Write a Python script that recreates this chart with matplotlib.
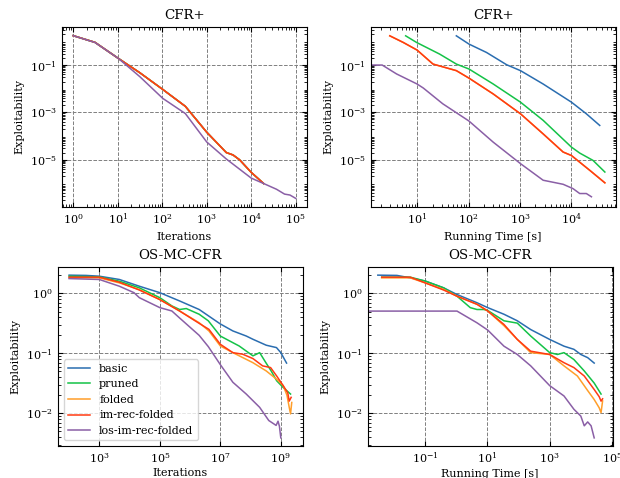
import numpy as np
import matplotlib
matplotlib.use("Agg")
import matplotlib.pyplot as plt

plt.rcParams['font.family'] = ['DejaVu Serif']
plt.rcParams['font.size'] = 8
plt.rcParams['mathtext.fontset'] = 'dejavuserif'

labels = ['basic', 'pruned', 'folded', 'im-rec-folded', 'los-im-rec-folded']
colors = ['#2a6db0', '#14c247', '#ff9e2a', '#ff3a12', '#8a5fa6']

# CFR+ vs iterations (all non-los variants coincide)
cfr_it_x = [1, 3.1, 10.4, 31.6, 103, 331, 1000, 2750, 3900, 5500, 10000, 19000]
cfr_it_y = [1.75, 0.91, 0.19, 0.047, 0.0093, 0.0018, 1.45e-4, 2.0e-5, 1.58e-5, 9.8e-6, 2.9e-6, 9.8e-7]
cfr_it_los_x = [1, 3.1, 10.4, 31.6, 103, 331, 1000, 2750, 10000, 19000, 37000, 56000, 74000, 100000]
cfr_it_los_y = [1.75, 0.9, 0.19, 0.032, 0.0039, 8.9e-4, 5.6e-5, 1.07e-5, 1.66e-6, 9.8e-7, 5.6e-7, 3.5e-7, 3.2e-7, 2.3e-7]

# CFR+ vs running time
cfr_t_basic_x = [58, 102, 224, 550, 1023, 2820, 10000, 19500, 35500]
cfr_t_basic_y = [1.72, 0.77, 0.34, 0.103, 0.058, 0.0158, 0.0027, 8.7e-4, 2.8e-4]
cfr_t_pruned_x = [6.0, 9.8, 27.5, 58, 102, 302, 1023, 2820, 10000, 14500, 26300, 44700]
cfr_t_pruned_y = [1.72, 0.9, 0.29, 0.11, 0.068, 0.0158, 0.0027, 4.6e-4, 3.4e-5, 1.9e-5, 9.3e-6, 3.0e-6]
cfr_t_fold_x = [2.95, 5.4, 10.0, 20.4, 58, 102, 302, 1023, 2820, 6900, 10000, 22900, 44700]
cfr_t_fold_y = [1.72, 0.9, 0.43, 0.11, 0.058, 0.028, 0.006, 8.7e-4, 1.23e-4, 2.1e-5, 1.5e-5, 3.5e-6, 1.05e-6]
cfr_t_los_x = [1.26, 2.1, 4.0, 10.0, 13.2, 31.6, 102, 302, 1023, 2820, 6900, 10700, 14500, 19500, 24500]
cfr_t_los_y = [0.1, 0.1, 0.042, 0.0158, 0.0107, 0.0023, 4.3e-4, 5.5e-5, 6.8e-6, 1.35e-6, 9.1e-7, 6.0e-7, 3.7e-7, 3.7e-7, 2.7e-7]

# OS-MC-CFR vs iterations
os_it_basic_x = [1e2, 3.6e2, 1e3, 4.6e3, 2.1e4, 1.0e5, 4.5e5, 2.0e6, 1.0e7, 2.6e7, 7.2e7, 1.2e8, 3.3e8, 7.2e8, 1.0e9, 1.55e9]
os_it_basic_y = [2.02, 2.0, 1.94, 1.71, 1.32, 1.03, 0.75, 0.54, 0.31, 0.237, 0.195, 0.172, 0.137, 0.125, 0.103, 0.069]
os_it_pruned_x = [1e2, 1e3, 4.6e3, 2.1e4, 1.0e5, 2.5e5, 4.5e5, 7.5e5, 2.0e6, 4.0e6, 1.0e7, 2.6e7, 4.2e7, 1.2e8, 2.0e8, 3.1e8, 4.8e8, 7.3e8, 1.2e9, 2.1e9]
os_it_pruned_y = [1.94, 1.89, 1.6, 1.24, 0.85, 0.62, 0.54, 0.56, 0.45, 0.35, 0.195, 0.151, 0.133, 0.091, 0.103, 0.072, 0.051, 0.035, 0.027, 0.021]
os_it_fold_x = [1e2, 1e3, 4.6e3, 2.1e4, 1.0e5, 4.5e5, 2.0e6, 4.2e6, 1.0e7, 2.6e7, 1.2e8, 3.3e8, 7.3e8, 1.2e9, 1.6e9, 1.9e9, 2.1e9, 2.3e9]
os_it_fold_y = [1.82, 1.82, 1.5, 1.16, 0.79, 0.51, 0.325, 0.237, 0.133, 0.103, 0.07, 0.051, 0.037, 0.029, 0.02, 0.0126, 0.0098, 0.0152]
os_it_im_x = [1e2, 1e3, 4.6e3, 2.1e4, 1.0e5, 4.5e5, 2.0e6, 4.2e6, 1.0e7, 2.6e7, 5.5e7, 1.2e8, 2.5e8, 4.6e8, 7.3e8, 1.2e9, 1.7e9, 1.9e9, 2.2e9]
os_it_im_y = [1.87, 1.87, 1.54, 1.14, 0.79, 0.51, 0.317, 0.252, 0.142, 0.103, 0.097, 0.082, 0.062, 0.058, 0.042, 0.029, 0.022, 0.016, 0.0185]
os_it_los_x = [1e2, 1e3, 4.6e3, 1.4e4, 2.1e4, 1.0e5, 2.5e5, 4.5e5, 2.0e6, 4.0e6, 1.0e7, 2.6e7, 7.2e7, 2.0e8, 4.0e8, 7.0e8, 8.1e8, 9.0e8, 1.0e9]
os_it_los_y = [1.77, 1.71, 1.32, 1.03, 0.85, 0.58, 0.51, 0.39, 0.2, 0.13, 0.065, 0.033, 0.021, 0.0126, 0.0076, 0.0063, 0.0074, 0.0061, 0.0039]

# OS-MC-CFR vs running time
os_t_basic_x = [0.003, 0.0123, 0.033, 0.1, 0.39, 1.05, 4.6, 10.2, 33.9, 91, 245, 1000, 2880, 6000, 10000, 16600, 26900]
os_t_basic_y = [2.02, 2.0, 1.82, 1.61, 1.24, 0.96, 0.7, 0.58, 0.45, 0.35, 0.25, 0.171, 0.132, 0.117, 0.096, 0.085, 0.069]
os_t_pruned_x = [0.004, 0.033, 0.1, 0.39, 1.05, 2.8, 4.6, 7.6, 10.2, 33.9, 91, 245, 1000, 1780, 2880, 6000, 12900, 26900, 44700]
os_t_pruned_y = [1.87, 1.87, 1.61, 1.24, 0.9, 0.58, 0.54, 0.54, 0.52, 0.35, 0.32, 0.195, 0.103, 0.096, 0.103, 0.079, 0.051, 0.032, 0.021]
os_t_fold_x = [0.004, 0.033, 0.1, 0.39, 1.05, 4.6, 10.2, 33.9, 91, 245, 1000, 2880, 7760, 16600, 26900, 38900, 44700, 50100]
os_t_fold_y = [1.82, 1.82, 1.5, 1.17, 0.9, 0.66, 0.51, 0.29, 0.171, 0.103, 0.096, 0.062, 0.042, 0.024, 0.017, 0.0124, 0.0103, 0.0161]
os_t_im_x = [0.004, 0.033, 0.1, 0.39, 1.05, 4.6, 10.2, 33.9, 91, 245, 1000, 2880, 6000, 12900, 26900, 38900, 44700, 50100]
os_t_im_y = [1.87, 1.87, 1.5, 1.14, 0.9, 0.66, 0.51, 0.304, 0.171, 0.109, 0.096, 0.07, 0.058, 0.042, 0.025, 0.019, 0.016, 0.0175]
os_t_los_x = [0.0014, 1.05, 4.6, 10.2, 33.9, 91, 245, 1000, 2880, 6000, 10000, 12900, 16600, 21400, 26900]
os_t_los_y = [0.508, 0.508, 0.324, 0.245, 0.132, 0.096, 0.062, 0.029, 0.0195, 0.0117, 0.009, 0.0062, 0.0072, 0.0062, 0.0039]


def style(ax):
    ax.set_xscale('log')
    ax.set_yscale('log')
    ax.tick_params(which='both', direction='in', top=True, right=True)
    ax.grid(True, which='major', linestyle='--', color='#808080', linewidth=0.7)
    ax.set_ylabel('Exploitability')


fig = plt.figure(figsize=(6.2, 4.78), dpi=100)
ax1 = fig.add_axes([0.100, 0.567, 0.395, 0.3766])
ax2 = fig.add_axes([0.598, 0.567, 0.395, 0.3766])
ax3 = fig.add_axes([0.0935, 0.0669, 0.395, 0.3745])
ax4 = fig.add_axes([0.593, 0.0669, 0.395, 0.3745])

lw = 1.1

# top-left
for c, lab in zip(colors[:4], labels[:4]):
    ax1.plot(cfr_it_x, cfr_it_y, color=c, lw=lw, label=lab)
ax1.plot(cfr_it_los_x, cfr_it_los_y, color=colors[4], lw=lw, label=labels[4])
style(ax1)
ax1.set_ylim(10 ** -7.0, 10 ** 0.61)
ax1.set_xticks([1e0, 1e1, 1e2, 1e3, 1e4, 1e5])
ax1.set_yticks([1e-1, 1e-3, 1e-5])
ax1.set_xlabel('Iterations')
ax1.set_title('CFR+')

# top-right
ax2.plot(cfr_t_basic_x, cfr_t_basic_y, color=colors[0], lw=lw)
ax2.plot(cfr_t_pruned_x, cfr_t_pruned_y, color=colors[1], lw=lw)
ax2.plot(cfr_t_fold_x, cfr_t_fold_y, color=colors[2], lw=lw)
ax2.plot(cfr_t_fold_x, cfr_t_fold_y, color=colors[3], lw=lw)
ax2.plot(cfr_t_los_x, cfr_t_los_y, color=colors[4], lw=lw)
style(ax2)
ax2.set_xlim(10 ** 0.1, 10 ** 4.86)
ax2.set_ylim(10 ** -7.0, 10 ** 0.61)
ax2.set_xticks([1e1, 1e2, 1e3, 1e4])
ax2.set_yticks([1e-1, 1e-3, 1e-5])
ax2.set_xlabel('Running Time [s]')
ax2.set_title('CFR+')

# bottom-left
os_it = [(os_it_basic_x, os_it_basic_y), (os_it_pruned_x, os_it_pruned_y),
         (os_it_fold_x, os_it_fold_y), (os_it_im_x, os_it_im_y),
         (os_it_los_x, os_it_los_y)]
for (xs, ys), c, lab in zip(os_it, colors, labels):
    ax3.plot(xs, ys, color=c, lw=lw, label=lab)
style(ax3)
ax3.set_xticks([1e3, 1e5, 1e7, 1e9])
ax3.set_yticks([1e0, 1e-1, 1e-2])
ax3.set_xlabel('Iterations', labelpad=2.5)
ax3.set_title('OS-MC-CFR')
ax3.legend(loc='lower left')

# bottom-right
os_t = [(os_t_basic_x, os_t_basic_y), (os_t_pruned_x, os_t_pruned_y),
        (os_t_fold_x, os_t_fold_y), (os_t_im_x, os_t_im_y),
        (os_t_los_x, os_t_los_y)]
for (xs, ys), c, lab in zip(os_t, colors, labels):
    ax4.plot(xs, ys, color=c, lw=lw, label=lab)
style(ax4)
ax4.set_xlim(10 ** -2.85, 10 ** 5.02)
ax4.set_xticks([1e-1, 1e1, 1e3, 1e5])
ax4.set_yticks([1e0, 1e-1, 1e-2])
ax4.set_xlabel('Running Time [s]', labelpad=2.5)
ax4.set_title('OS-MC-CFR')

fig.savefig('out.png', dpi=100)
